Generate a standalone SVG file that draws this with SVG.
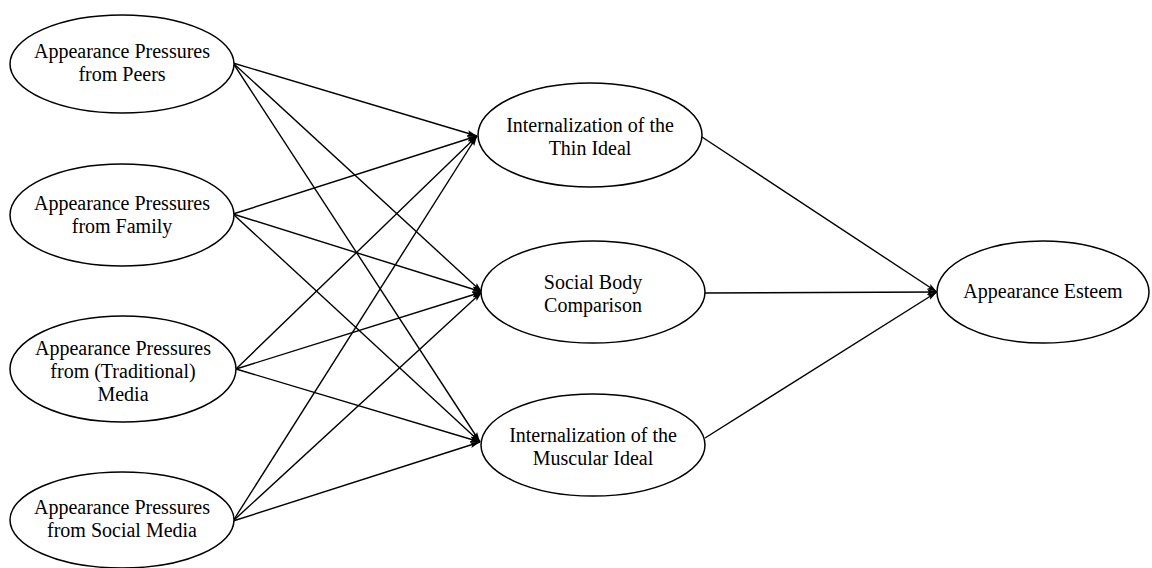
<svg xmlns="http://www.w3.org/2000/svg" width="1152" height="568" viewBox="0 0 1152 568">
<style>
.n ellipse{fill:#fff;stroke:#000;stroke-width:1.5}
.n text{font-family:"Liberation Serif","Times New Roman",serif;font-size:20px;fill:#000;text-anchor:middle}
.e line{stroke:#000;stroke-width:1.4;marker-end:url(#ah)}
</style>
<defs>
<marker id="ah" viewBox="0 0 10 8" refX="10" refY="4" markerWidth="10" markerHeight="8" markerUnits="userSpaceOnUse" orient="auto">
<path d="M0,1 L10,4 L0,7 L2,4 Z" fill="#000"/>
</marker>
</defs>
<rect width="1152" height="568" fill="#fff"/>
<g class="e" id="connectors">
<line x1="233" y1="63" x2="477" y2="136"/>
<line x1="233" y1="63" x2="482" y2="292"/>
<line x1="233" y1="63" x2="480" y2="442"/>
<line x1="233" y1="214" x2="477" y2="136"/>
<line x1="233" y1="214" x2="482" y2="292"/>
<line x1="233" y1="214" x2="480" y2="442"/>
<line x1="236" y1="369" x2="477" y2="136"/>
<line x1="236" y1="369" x2="482" y2="292"/>
<line x1="236" y1="369" x2="480" y2="442"/>
<line x1="233" y1="521" x2="477" y2="136"/>
<line x1="233" y1="521" x2="482" y2="292"/>
<line x1="233" y1="521" x2="480" y2="442"/>
<line x1="702" y1="137" x2="937" y2="292"/>
<line x1="705" y1="293" x2="937" y2="292"/>
<line x1="705" y1="438" x2="937" y2="292"/>
</g>
<g class="n" id="peers"><ellipse cx="122" cy="64" rx="112" ry="49"/><text x="122" y="58">Appearance Pressures</text><text x="122" y="81">from Peers</text></g>
<g class="n" id="family"><ellipse cx="122" cy="215" rx="112" ry="51"/><text x="122" y="210">Appearance Pressures</text><text x="122" y="233">from Family</text></g>
<g class="n" id="tradmedia"><ellipse cx="123" cy="369" rx="113" ry="53"/><text x="123" y="355">Appearance Pressures</text><text x="123" y="378">from (Traditional)</text><text x="123" y="401">Media</text></g>
<g class="n" id="socialmedia"><ellipse cx="122" cy="520" rx="112" ry="48"/><text x="122" y="514">Appearance Pressures</text><text x="122" y="537">from Social Media</text></g>
<g class="n" id="thin"><ellipse cx="590" cy="135" rx="112" ry="52"/><text x="590" y="132">Internalization of the</text><text x="590" y="155">Thin Ideal</text></g>
<g class="n" id="sbc"><ellipse cx="593" cy="292" rx="112" ry="51"/><text x="593" y="289">Social Body</text><text x="593" y="312">Comparison</text></g>
<g class="n" id="muscular"><ellipse cx="593" cy="445" rx="112" ry="51"/><text x="593" y="442">Internalization of the</text><text x="593" y="465">Muscular Ideal</text></g>
<g class="n" id="esteem"><ellipse cx="1043" cy="292" rx="106" ry="51"/><text x="1043" y="298">Appearance Esteem</text></g>
</svg>
